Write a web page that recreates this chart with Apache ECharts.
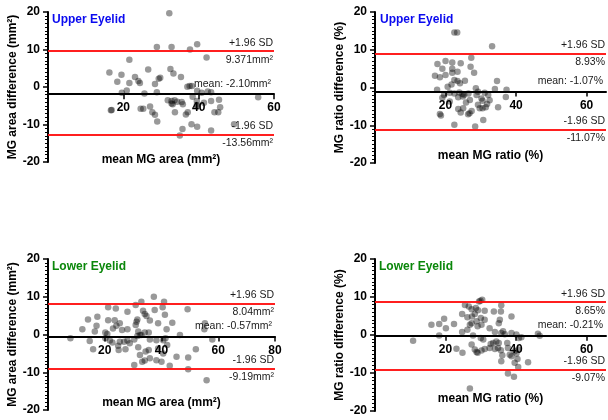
<!DOCTYPE html>
<html>
<head>
<meta charset="utf-8">
<script src="https://cdn.jsdelivr.net/npm/echarts@6.0.0/dist/echarts.min.js"></script>
<style>
  html, body { margin: 0; padding: 0; background: #fff; }
  #chart { width: 608px; height: 420px; }
</style>
</head>
<body>
<div id="chart"></div>
<script>
// upper eyelid, MG area: mean of the two methods / difference
const upperAreaMean = [32.2, 28.9, 32.8, 37.7, 39.6, 42.1, 21.6, 16.3, 19.5, 18.4, 23.1, 24.0, 24.4, 21.6, 26.6, 29.8, 29.4, 28.4, 32.5, 33.3, 35.3, 37.0, 37.6, 38.2, 20.9, 19.6, 25.6, 28.9, 39.6, 40.8, 42.4, 43.3, 38.4, 55.8, 31.8, 32.8, 33.6, 34.3, 35.5, 32.8, 33.1, 35.8, 39.5, 39.5, 43.3, 45.4, 41.4, 45.7, 44.2, 45.2, 33.7, 36.6, 37.1, 39.6, 27.1, 27.7, 28.4, 29.0, 25.3, 24.6, 16.7, 16.9, 35.7, 35.0, 38.1, 39.6, 43.3, 49.4]
const upperAreaDiff = [19.7, 10.7, 10.7, 10.0, 11.4, 7.9, 7.3, 3.9, 3.3, 1.4, 2.7, 1.6, 1.1, 1.1, 4.7, 2.5, 2.2, 0.8, 4.8, 3.6, 2.7, 0.1, 0.3, 0.3, -0.9, -1.5, -1.7, -1.4, -1.0, -1.5, -1.2, -1.4, -2.6, -2.7, -3.5, -3.7, -3.5, -3.9, -4.0, -4.4, -4.6, -4.6, -3.7, -4.8, -3.7, -3.4, -4.2, -5.4, -6.7, -6.7, -6.7, -7.3, -6.7, -5.2, -5.2, -6.7, -7.4, -9.2, -5.8, -5.8, -6.2, -6.1, -11.2, -12.9, -9.9, -10.6, -11.6, -9.9]

// upper eyelid, MG ratio
const upperRatioMean = [22.5, 23.3, 33.2, 27.3, 17.7, 20.0, 21.9, 24.3, 19.1, 21.9, 27.1, 28.1, 21.9, 23.4, 17.0, 18.4, 20.0, 22.5, 23.4, 25.5, 24.1, 21.7, 20.6, 34.6, 17.6, 19.6, 19.1, 21.2, 22.5, 23.9, 24.8, 25.3, 24.9, 23.6, 26.5, 28.6, 29.2, 28.8, 30.2, 30.5, 32.1, 31.1, 34.0, 37.3, 37.1, 34.9, 32.5, 31.8, 30.5, 31.4, 29.7, 29.2, 26.9, 25.8, 23.6, 24.3, 25.0, 27.4, 26.4, 26.8, 18.4, 18.7, 30.7, 22.5, 28.4, 21.2]
const upperRatioDiff = [14.6, 14.6, 10.9, 7.9, 6.2, 7.0, 6.6, 6.4, 5.0, 5.0, 5.5, 3.9, 3.9, 4.2, 3.1, 2.7, 3.3, 2.0, 1.7, 1.8, 1.1, 0.8, 0.2, 1.7, -0.6, -2.0, -2.7, -1.4, -1.6, -1.3, -1.7, -1.9, -2.4, -2.6, -1.6, -0.2, -1.1, -2.0, -2.9, -3.5, -2.0, -1.4, -0.4, -0.6, -2.5, -5.2, -3.4, -4.4, -5.5, -5.2, -5.5, -4.6, -3.3, -4.0, -5.7, -6.6, -5.5, -6.2, -7.1, -6.8, -7.0, -7.4, -8.6, -9.9, -10.3, -3.7]

// lower eyelid, MG area
const lowerAreaMean = [37.3, 32.9, 40.9, 49.2, 21.2, 23.9, 28.0, 30.9, 33.5, 34.1, 34.7, 37.6, 40.4, 41.2, 35.9, 38.8, 41.8, 43.8, 31.2, 31.5, 14.1, 17.4, 17.1, 12.1, 16.5, 21.2, 23.5, 24.1, 25.3, 22.9, 26.1, 28.0, 31.8, 34.1, 35.5, 30.9, 20.2, 20.9, 7.9, 14.7, 20.2, 21.8, 22.7, 24.7, 25.3, 26.8, 28.0, 28.8, 30.4, 31.5, 32.4, 32.9, 35.9, 38.2, 40.6, 41.4, 42.0, 46.5, 15.9, 24.9, 27.3, 31.8, 34.4, 35.5, 38.8, 40.6, 32.4, 34.1, 33.2, 35.9, 38.2, 40.0, 42.9, 30.4, 45.3, 52.1, 49.4, 49.4, 55.9, 55.3, 55.1, 57.9]
const lowerAreaDiff = [10.0, 8.7, 8.7, 6.7, 7.2, 6.9, 6.0, 7.8, 6.3, 5.4, 4.9, 6.5, 7.2, 5.2, 3.7, 3.0, 1.4, 3.1, 3.4, 4.0, 4.0, 4.7, 2.3, 1.4, 0.8, 3.8, 3.8, 2.3, 3.0, 1.6, 1.2, 1.4, 0.8, 0.5, 0.5, 2.5, 0.5, 0.1, -1.0, -1.7, -1.0, -1.6, -2.1, -3.0, -1.9, -1.9, -1.6, -2.3, -1.3, -0.4, -0.1, -0.1, -1.3, -1.5, -1.5, -1.0, -2.8, -0.1, -3.9, -4.1, -3.9, -3.4, -4.5, -4.1, -3.7, -5.0, -5.4, -6.9, -7.2, -6.3, -6.8, -7.2, -8.3, -8.1, -5.9, -3.9, -6.1, -9.2, -12.1, 3.0, 1.4, -1.3]

// lower eyelid, MG ratio
const lowerRatioMean = [10.8, 16.0, 18.2, 19.6, 20.1, 18.2, 22.4, 23.1, 24.8, 25.5, 26.6, 27.4, 28.6, 29.2, 24.7, 26.2, 27.5, 28.3, 29.5, 30.4, 29.9, 31.1, 33.7, 35.8, 35.7, 38.7, 35.4, 35.1, 30.0, 31.1, 24.7, 26.2, 26.9, 27.4, 28.8, 29.1, 30.2, 27.8, 30.0, 30.7, 32.5, 34.0, 35.8, 36.3, 36.8, 38.7, 40.1, 40.8, 41.5, 46.2, 46.7, 27.4, 28.3, 29.1, 28.8, 30.2, 31.1, 32.8, 33.5, 32.5, 34.0, 34.4, 35.1, 34.9, 35.7, 37.5, 37.7, 38.2, 38.7, 36.1, 35.8, 39.6, 40.1, 40.6, 40.4, 39.6, 43.4, 40.6, 37.7, 39.4, 26.9]
const lowerRatioDiff = [-1.5, 2.7, 2.9, 4.3, 1.8, -0.1, 2.9, -3.6, -4.7, 7.9, 7.5, 6.8, 7.1, 6.5, 5.5, 4.7, 4.9, 5.5, 8.8, 9.3, 9.0, 6.4, 6.2, 7.8, 6.2, 4.9, 4.0, 3.1, 4.5, 4.0, 0.8, 1.4, 2.7, 3.1, 3.6, 2.3, 2.7, -0.1, -0.8, -1.2, 1.8, 0.8, 0.5, 1.0, 0.2, 0.5, 0.1, -0.8, -0.6, 0.3, -0.2, -2.5, -3.8, -4.7, -4.5, -4.1, -3.7, -2.4, -2.1, -3.4, -3.7, -1.7, -2.1, -3.4, -4.0, -2.1, -3.4, -5.2, -5.6, -5.3, -6.9, -4.3, -4.9, -3.8, -6.3, -7.3, -7.2, -8.4, -10.1, -11.0, -14.1]

// limits of agreement as drawn: [+1.96 SD, mean, -1.96 SD]
const upperAreaLines = [9.55, -1.9, -12.6]
const upperRatioLines = [8.93, -1.07, -11.07]
const lowerAreaLines = [8.1, -0.5, -9.15]
const lowerRatioLines = [8.65, -0.21, -9.07]

const upperAreaTexts = ['9.371mm²', 'mean: -2.10mm²', '-13.56mm²']
const upperRatioTexts = ['8.93%', 'mean: -1.07%', '-11.07%']
const lowerAreaTexts = ['8.04mm²', 'mean: -0.57mm²', '-9.19mm²']
const lowerRatioTexts = ['8.65%', 'mean: -0.21%', '-9.07%']

const xTicks60 = [20, 40, 60]
const xTicks80 = [20, 40, 60, 80]

const FONT = '"Liberation Sans", Arial, sans-serif'

const panels = [
  { title: 'Upper Eyelid', titleColor: '#0a0aef', xs: upperAreaMean, ys: upperAreaDiff, lines: upperAreaLines, texts: upperAreaTexts,
    xMax: 60, xTicks: xTicks60, xName: 'mean MG area (mm²)', yName: 'MG area difference (mm²)',
    grid: { left: 48, top: 12, width: 226, height: 150 }, xNameGap: 60, yNameGap: 24, titlePos: [52, 14] },
  { title: 'Upper Eyelid', titleColor: '#0a0aef', xs: upperRatioMean, ys: upperRatioDiff, lines: upperRatioLines, texts: upperRatioTexts,
    xMax: 65.5, xTicks: xTicks60, xName: 'mean MG ratio (%)', yName: 'MG ratio difference (%)',
    grid: { left: 375, top: 12, width: 231, height: 151 }, xNameGap: 58, yNameGap: 26, titlePos: [380, 14] },
  { title: 'Lower Eyelid', titleColor: '#0a870a', xs: lowerAreaMean, ys: lowerAreaDiff, lines: lowerAreaLines, texts: lowerAreaTexts,
    xMax: 80, xTicks: xTicks80, xName: 'mean MG area (mm²)', yName: 'MG area difference (mm²)',
    grid: { left: 48, top: 259, width: 227, height: 151 }, xNameGap: 60, yNameGap: 24, titlePos: [52, 261] },
  { title: 'Lower Eyelid', titleColor: '#0a870a', xs: lowerRatioMean, ys: lowerRatioDiff, lines: lowerRatioLines, texts: lowerRatioTexts,
    xMax: 65.5, xTicks: xTicks60, xName: 'mean MG ratio (%)', yName: 'MG ratio difference (%)',
    grid: { left: 375, top: 259, width: 231, height: 152 }, xNameGap: 57, yNameGap: 26, titlePos: [379, 261] }
]

const chart = echarts.init(document.getElementById('chart'))

const labelStyle = { color: '#1a1a1a', fontSize: 10.5, fontFamily: FONT, distance: 3, offset: [2, 0] }
const redLine = { color: '#ff1010', width: 1.6, type: 'solid' }
const boldText = { color: '#000', fontSize: 12, fontWeight: 'bold', fontFamily: FONT }

const option = {
  animation: false,
  backgroundColor: '#fff',
  title: [],
  grid: [],
  xAxis: [],
  yAxis: [],
  series: []
}

panels.forEach((p, i) => {
  const mean = p.lines[1]
  const g = p.grid
  option.title.push({
    text: p.title, left: p.titlePos[0], top: p.titlePos[1], padding: 0,
    textStyle: Object.assign({}, boldText, { color: p.titleColor })
  })
  // main plotting grid
  option.grid.push(Object.assign({ containLabel: false, outerBoundsMode: 'none' }, g))
  // helper grid whose bottom edge lies on the mean line, carries the visible x axis
  option.grid.push({
    containLabel: false, outerBoundsMode: 'none',
    left: g.left, top: g.top, width: g.width, height: g.height * (20 - mean) / 40
  })
  option.xAxis.push({
    gridIndex: 2 * i, type: 'value', min: 0, max: p.xMax, show: false
  })
  option.xAxis.push({
    gridIndex: 2 * i + 1, type: 'value', min: 0, max: p.xMax, position: 'bottom',
    name: p.xName, nameLocation: 'middle', nameGap: p.xNameGap, nameTextStyle: boldText,
    axisLine: { show: true, onZero: false, lineStyle: { color: '#000', width: 2 } },
    axisTick: { show: true, customValues: p.xTicks, length: 5, lineStyle: { color: '#000', width: 1.5 } },
    axisLabel: Object.assign({ customValues: p.xTicks, margin: 8 }, boldText),
    splitLine: { show: false }
  })
  option.yAxis.push({
    gridIndex: 2 * i, type: 'value', min: -20, max: 20, interval: 10,
    name: p.yName, nameLocation: 'middle', nameGap: p.yNameGap, nameRotate: 90, nameTextStyle: boldText,
    axisLine: { show: true, onZero: false, lineStyle: { color: '#000', width: 2 } },
    axisTick: { show: true, length: 5, lineStyle: { color: '#000', width: 1.5 } },
    minorTick: { show: true, splitNumber: 10, length: 3, lineStyle: { color: '#000', width: 1 } },
    axisLabel: Object.assign({ margin: 8 }, boldText),
    splitLine: { show: false }
  })
  option.yAxis.push({
    gridIndex: 2 * i + 1, type: 'value', min: 0, max: 1, show: false
  })
  option.series.push({
    type: 'scatter', xAxisIndex: 2 * i, yAxisIndex: 2 * i,
    data: p.xs.map((x, k) => [x, p.ys[k]]),
    symbolSize: 6.5,
    itemStyle: { color: 'rgba(0,0,0,0.5)' },
    markLine: {
      silent: true, symbol: 'none', animation: false,
      data: [
        { yAxis: p.lines[0], lineStyle: redLine, label: Object.assign({ position: 'insideEndTop', formatter: '+1.96 SD' }, labelStyle) },
        { yAxis: p.lines[0], lineStyle: redLine, label: Object.assign({ position: 'insideEndBottom', formatter: p.texts[0] }, labelStyle) },
        { yAxis: p.lines[1], lineStyle: { color: '#000', width: 2, type: 'solid' }, label: Object.assign({ position: 'insideEndTop', formatter: p.texts[1] }, labelStyle, { distance: 5 }) },
        { yAxis: p.lines[2], lineStyle: redLine, label: Object.assign({ position: 'insideEndTop', formatter: '-1.96 SD' }, labelStyle) },
        { yAxis: p.lines[2], lineStyle: redLine, label: Object.assign({ position: 'insideEndBottom', formatter: p.texts[2] }, labelStyle) }
      ]
    }
  })
})

chart.setOption(option)
</script>
</body>
</html>
